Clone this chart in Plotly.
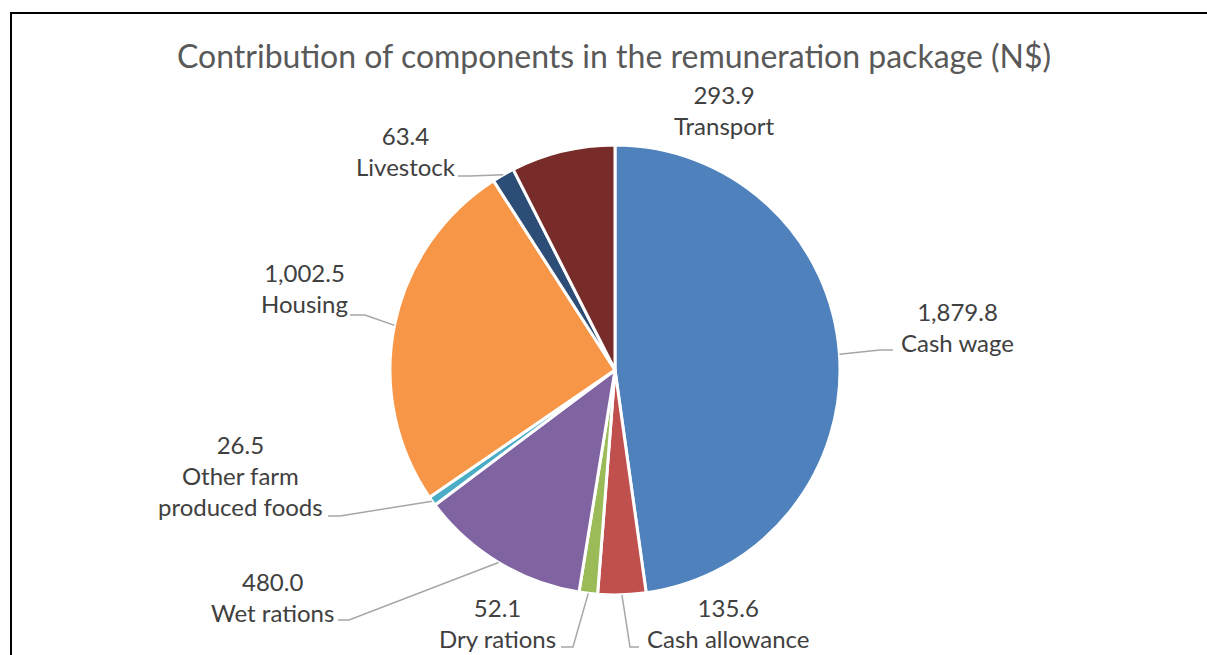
import math
import plotly.graph_objects as go

# Remuneration components (N$), in clockwise order from 12 o'clock
components = ["Cash wage", "Cash allowance", "Dry rations", "Wet rations",
              "Other farm<br>produced foods", "Housing", "Livestock", "Transport"]
amounts = [1879.8, 135.6, 52.1, 480.0, 26.5, 1002.5, 63.4, 293.9]
slice_colors = ["#4F81BD", "#C0504D", "#9BBB59", "#8064A2",
                "#4BACC6", "#F79646", "#2C4D75", "#772C2A"]

W, H = 1207, 655
CX, CY, R = 615, 370, 225  # pie centre and radius in pixels

# label block centres and leader-line (start, elbow) points, in pixels
label_pos = [(957, 327), (728, 623), (497, 623), (272, 597),
             (240, 475), (304, 288), (406, 151), (724, 110)]
leaders = [((893, 350), (880, 350)), ((639, 647), (630, 647)),
           ((561, 647), (573, 647)), ((338, 620), (349, 620)),
           ((328, 516), (340, 516)), ((350, 315), (365, 315)),
           ((458, 176), (470, 176)), None]


def px(x):
    return x / W


def py(y):
    return 1 - y / H


fig = go.Figure(go.Pie(
    labels=components, values=amounts, sort=False, direction="clockwise",
    rotation=0, textinfo="none", hoverinfo="label+value",
    marker=dict(colors=slice_colors, line=dict(color="white", width=3)),
    domain=dict(x=[px(CX - R), px(CX + R)], y=[py(CY + R), py(CY - R)]),
    showlegend=False,
))

total = sum(amounts)
start = 0.0
shapes = []
annotations = []
for name, val, pos, ld in zip(components, amounts, label_pos, leaders):
    frac = val / total
    mid = (start + frac / 2) * 2 * math.pi
    start += frac
    ex = CX + R * math.sin(mid)
    ey = CY - R * math.cos(mid)
    annotations.append(dict(
        x=px(pos[0]), y=py(pos[1]), xref="paper", yref="paper",
        text=f"{val:,.1f}<br>{name}", showarrow=False,
        xanchor="center", yanchor="middle", align="center",
        font=dict(family="Lato", size=24, color="#404040"),
    ))
    if ld:
        (sx, sy), (bx, by) = ld
        shapes.append(dict(
            type="path", xref="paper", yref="paper",
            path=f"M {px(sx)} {py(sy)} L {px(bx)} {py(by)} L {px(ex)} {py(ey)}",
            line=dict(color="#A6A6A6", width=1.5),
        ))

# chart frame
shapes.append(dict(type="rect", xref="paper", yref="paper",
                   x0=px(11), y0=py(665), x1=px(1220), y1=py(13),
                   line=dict(color="black", width=2)))

annotations.append(dict(
    x=px(614), y=py(55), xref="paper", yref="paper", showarrow=False,
    text="Contribution of components in the remuneration package (N$)",
    xanchor="center", yanchor="middle",
    font=dict(family="Lato", size=32, color="#595959"),
))

fig.update_layout(
    width=W, height=H, margin=dict(l=0, r=0, t=0, b=0),
    paper_bgcolor="white", plot_bgcolor="white",
    shapes=shapes, annotations=annotations,
)

fig.write_html("out.html")
